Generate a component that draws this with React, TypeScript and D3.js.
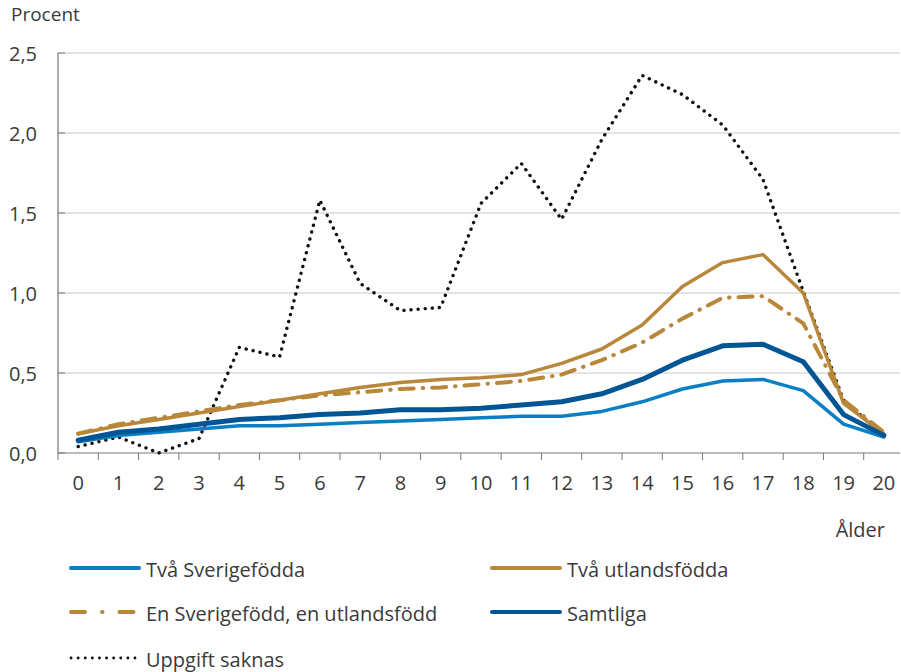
import React from "react";
import * as d3 from "d3";

const ages = ["0","1","2","3","4","5","6","7","8","9","10","11","12","13","14","15","16","17","18","19","20"];
const yTicks = [0, 0.5, 1.0, 1.5, 2.0, 2.5];

const tvaSverige = [0.07,0.11,0.13,0.15,0.17,0.17,0.18,0.19,0.2,0.21,0.22,0.23,0.23,0.26,0.32,0.4,0.45,0.46,0.39,0.18,0.1];
const tvaUtlands = [0.12,0.17,0.21,0.25,0.29,0.33,0.37,0.41,0.44,0.46,0.47,0.49,0.56,0.65,0.8,1.04,1.19,1.24,1.0,0.31,0.12];
const enEn = [0.12,0.18,0.22,0.26,0.3,0.33,0.36,0.38,0.4,0.41,0.43,0.45,0.49,0.58,0.69,0.84,0.97,0.98,0.81,0.33,0.13];
const samtliga = [0.08,0.13,0.15,0.18,0.21,0.22,0.24,0.25,0.27,0.27,0.28,0.3,0.32,0.37,0.46,0.58,0.67,0.68,0.57,0.24,0.11];
const uppgift = [0.04,0.1,0.0,0.09,0.66,0.6,1.58,1.06,0.89,0.91,1.56,1.81,1.46,1.96,2.36,2.24,2.05,1.71,1.01,0.33,0.11];

const C_LIGHT = "#0a7fc4";
const C_DARK = "#005595";
const C_GOLD = "#b8873a";

const series = [
  { name: "Två Sverigefödda", values: tvaSverige, color: C_LIGHT, width: 3.5, dash: "" },
  { name: "Två utlandsfödda", values: tvaUtlands, color: C_GOLD, width: 3.5, dash: "" },
  { name: "En Sverigefödd, en utlandsfödd", values: enEn, color: C_GOLD, width: 4, dash: "14 9 0.5 9" },
  { name: "Samtliga", values: samtliga, color: C_DARK, width: 5, dash: "" },
  { name: "Uppgift saknas", values: uppgift, color: "#111", width: 3.4, dash: "0.1 7" },
];
const drawOrder = [4, 1, 2, 0, 3];

export default function App() {
  const W = 901, H = 672;
  const left = 58, right = 904, top = 53, bottom = 453;
  const x = d3.scaleBand<string>().domain(ages).range([left, right]);
  const y = d3.scaleLinear().domain([0, 2.5]).range([bottom, top]);
  const line = d3.line<number>()
    .x((_, i) => (x(ages[i]) as number) + x.bandwidth() / 2)
    .y((d) => y(d));
  const font = "'Open Sans', sans-serif";
  const txt = "#3a3a3a";
  const fs = 20;
  const legendPos = [
    { lx: 71, ty: 568 },
    { lx: 492, ty: 568 },
    { lx: 71, ty: 612 },
    { lx: 492, ty: 612 },
    { lx: 71, ty: 658 },
  ];
  return (
    <svg width={W} height={H} style={{ position: "absolute", left: 0, top: 0 }} fontFamily={font}>
      <rect width={W} height={H} fill="#fff" />
      <text x={11} y={21} fontSize={19} fill={txt}>Procent</text>
      {yTicks.map((t) => (
        <g key={t}>
          {t > 0 && <line x1={left} x2={900} y1={y(t)} y2={y(t)} stroke="#c8c8c8" strokeWidth={1} />}
          <line x1={left} x2={left + 7} y1={y(t)} y2={y(t)} stroke="#777" strokeWidth={1} />
          <text x={37} y={y(t) + 7.5} textAnchor="end" fontSize={fs} fill={txt}>
            {d3.format(".1f")(t).replace(".", ",")}
          </text>
        </g>
      ))}
      <line x1={left} x2={left} y1={top} y2={bottom} stroke="#777" strokeWidth={1.2} />
      <line x1={left} x2={900} y1={bottom} y2={bottom} stroke="#777" strokeWidth={1.2} />
      {ages.map((a) => (
        <g key={a}>
          <line x1={(x(a) as number)} x2={(x(a) as number)} y1={bottom} y2={bottom + 7} stroke="#777" strokeWidth={1} />
          <text x={(x(a) as number) + x.bandwidth() / 2} y={490} textAnchor="middle" fontSize={fs} fill={txt}>{a}</text>
        </g>
      ))}
      <text x={885} y={537} textAnchor="end" fontSize={fs} fill={txt}>Ålder</text>
      {drawOrder.map((i) => {
        const s = series[i];
        return (
          <path key={s.name} d={line(s.values) as string} fill="none" stroke={s.color}
            strokeWidth={s.width} strokeDasharray={s.dash || undefined}
            strokeLinecap="round" strokeLinejoin="round" />
        );
      })}
      {series.map((s, i) => {
        const p = legendPos[i];
        return (
          <g key={s.name}>
            <line x1={p.lx} x2={i === 4 ? p.lx + 64 : p.lx + 68} y1={p.ty} y2={p.ty} stroke={s.color}
              strokeWidth={i === 4 ? 2.8 : 4} strokeDasharray={i === 2 ? "14 17 0.5 17" : i === 4 ? "0.1 7" : undefined}
              strokeLinecap="round" />
            <text x={p.lx + 75} y={p.ty + 9} fontSize={fs} fill={txt}>{s.name}</text>
          </g>
        );
      })}
    </svg>
  );
}
